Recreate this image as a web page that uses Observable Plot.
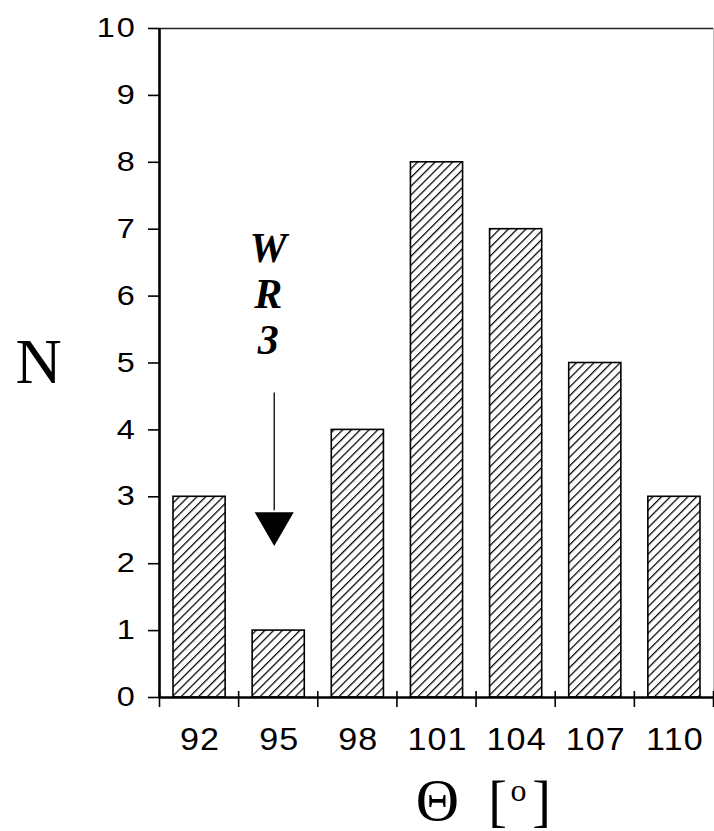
<!DOCTYPE html>
<html>
<head>
<meta charset="utf-8">
<script src="https://cdn.jsdelivr.net/npm/d3@7"></script>
<script src="https://cdn.jsdelivr.net/npm/@observablehq/plot@0.6"></script>
<style>
  html, body { margin: 0; padding: 0; background: #fff; }
  #chart svg { display: block; }
</style>
</head>
<body>
<div id="chart"></div>
<script>
// ---- data ----
const theta = [92, 95, 98, 101, 104, 107, 110];   // bin centres, degrees
const counts = [3, 1, 4, 8, 7, 5, 3];              // N per bin
const binWidth = 3;
const yTicks = [0, 1, 2, 3, 4, 5, 6, 7, 8, 9, 10];
const annotationText = "W\nR\n3";
const annotationX = 95;
const annotationTop = 7.0;
const arrowFrom = 4.56;
const arrowTo = 2.8;
const arrowHead = 2.6;

const data = theta.map((t, i) => ({theta: t, n: counts[i]}));
const edges = [theta[0] - binWidth / 2, ...theta.map(t => t + binWidth / 2)];
const xDomain = [edges[0], edges[edges.length - 1]];

const sans = "'Liberation Sans', Arial, Helvetica, sans-serif";
const serif = "'Liberation Serif', 'Times New Roman', serif";

const plot = Plot.plot({
  width: 714,
  height: 831,
  marginLeft: 159,
  marginRight: 1,
  marginTop: 28,
  marginBottom: 134,
  style: {fontFamily: sans, background: "#fff", color: "#000"},
  x: {type: "linear", domain: xDomain, axis: null},
  y: {domain: [0, 10], axis: null},
  marks: [
    Plot.rectY(data, {
      x1: d => d.theta - binWidth / 2,
      x2: d => d.theta + binWidth / 2,
      y: "n",
      insetLeft: 14,
      insetRight: 13,
      fill: "url(#hatch)",
      stroke: "#000",
      strokeWidth: 1.6
    }),
    Plot.ruleY([10], {stroke: "#222", strokeWidth: 1.5}),
    Plot.ruleX([xDomain[1]], {stroke: "#bbb", strokeWidth: 1}),
    Plot.ruleX([xDomain[0]], {stroke: "#000", strokeWidth: 2.6}),
    Plot.ruleY([0], {stroke: "#000", strokeWidth: 2.6}),
    // y ticks and labels
    Plot.tickY(yTicks, {
      y: d => d,
      insetLeft: -11,
      insetRight: 554,
      stroke: "#000",
      strokeWidth: 1.6
    }),
    Plot.text(yTicks, {
      y: d => d,
      frameAnchor: "left",
      dx: -23,
      text: d => String(d),
      fontSize: 27,
      fontFamily: sans,
      textAnchor: "end",
      lineAnchor: "middle",
      fill: "#000"
    }),
    // x ticks at bin edges
    Plot.tickX(edges, {
      x: d => d,
      insetTop: 663,
      insetBottom: -10,
      stroke: "#000",
      strokeWidth: 1.6
    }),
    // x labels at bin centres
    Plot.text(theta, {
      x: d => d,
      frameAnchor: "bottom",
      dx: 1,
      dy: 30,
      text: d => String(d),
      fontSize: 31,
      fontFamily: sans,
      textAnchor: "middle",
      lineAnchor: "top",
      fill: "#000"
    }),
    Plot.text(["N"], {
      frameAnchor: "left",
      dx: -121,
      fontSize: 64,
      fontFamily: serif,
      textAnchor: "middle",
      lineAnchor: "middle"
    }),
    Plot.text(["Θ"], {
      frameAnchor: "bottom",
      dx: 1,
      dy: 122,
      fontSize: 60,
      fontFamily: serif,
      textAnchor: "middle",
      lineAnchor: "bottom"
    }),
    Plot.text(["["], {
      frameAnchor: "bottom",
      dx: 61,
      dy: 122,
      fontSize: 56,
      fontFamily: serif,
      textAnchor: "middle",
      lineAnchor: "bottom"
    }),
    Plot.text(["o"], {
      frameAnchor: "bottom",
      dx: 82,
      dy: 103,
      fontSize: 32,
      fontFamily: serif,
      textAnchor: "middle",
      lineAnchor: "bottom"
    }),
    Plot.text(["]"], {
      frameAnchor: "bottom",
      dx: 105,
      dy: 122,
      fontSize: 56,
      fontFamily: serif,
      textAnchor: "middle",
      lineAnchor: "bottom"
    }),
    Plot.text([annotationText], {
      x: () => annotationX,
      y: () => annotationTop,
      dx: -10,
      text: d => d,
      fontSize: 42,
      lineHeight: 1.1,
      fontFamily: serif,
      fontWeight: "bold",
      fontStyle: "italic",
      textAnchor: "middle",
      lineAnchor: "top"
    }),
    Plot.link([{x: annotationX, y1: arrowFrom, y2: arrowTo}], {
      x1: "x", x2: "x", y1: "y1", y2: "y2",
      dx: -4,
      stroke: "#000",
      strokeWidth: 1.3
    }),
    Plot.dot([{x: annotationX, y: arrowHead}], {
      x: "x", y: "y",
      dx: -4,
      symbol: "triangle",
      rotate: 180,
      r: 14.5,
      fill: "#000",
      stroke: "none"
    })
  ]
});

const defs = `<defs><pattern id="hatch" patternUnits="userSpaceOnUse" width="6.2" height="6.2" patternTransform="rotate(45)">
<rect width="6.2" height="6.2" fill="#fff"/><line x1="0" y1="0" x2="0" y2="6.2" stroke="#000" stroke-width="2.5"/></pattern></defs>`;
plot.insertAdjacentHTML("afterbegin", defs);

// widen the numeric tick labels (the reference uses a broad sans face)
plot.querySelectorAll("text").forEach(t => {
  if (!/^\d+$/.test(t.textContent)) return;
  const x = parseFloat(t.getAttribute("x") || "0");
  const tr = t.getAttribute("transform") || "";
  const isX = t.getAttribute("text-anchor") !== "end" &&
              (t.parentNode.getAttribute("text-anchor") !== "end");
  const s = isX ? 1.1 : 1.2;
  t.setAttribute("letter-spacing", isX ? "1" : "1.5");
  t.setAttribute("transform", `${tr} translate(${x},0) scale(${s},1) translate(${-x},0)`);
});
document.getElementById("chart").appendChild(plot);
</script>
</body>
</html>
